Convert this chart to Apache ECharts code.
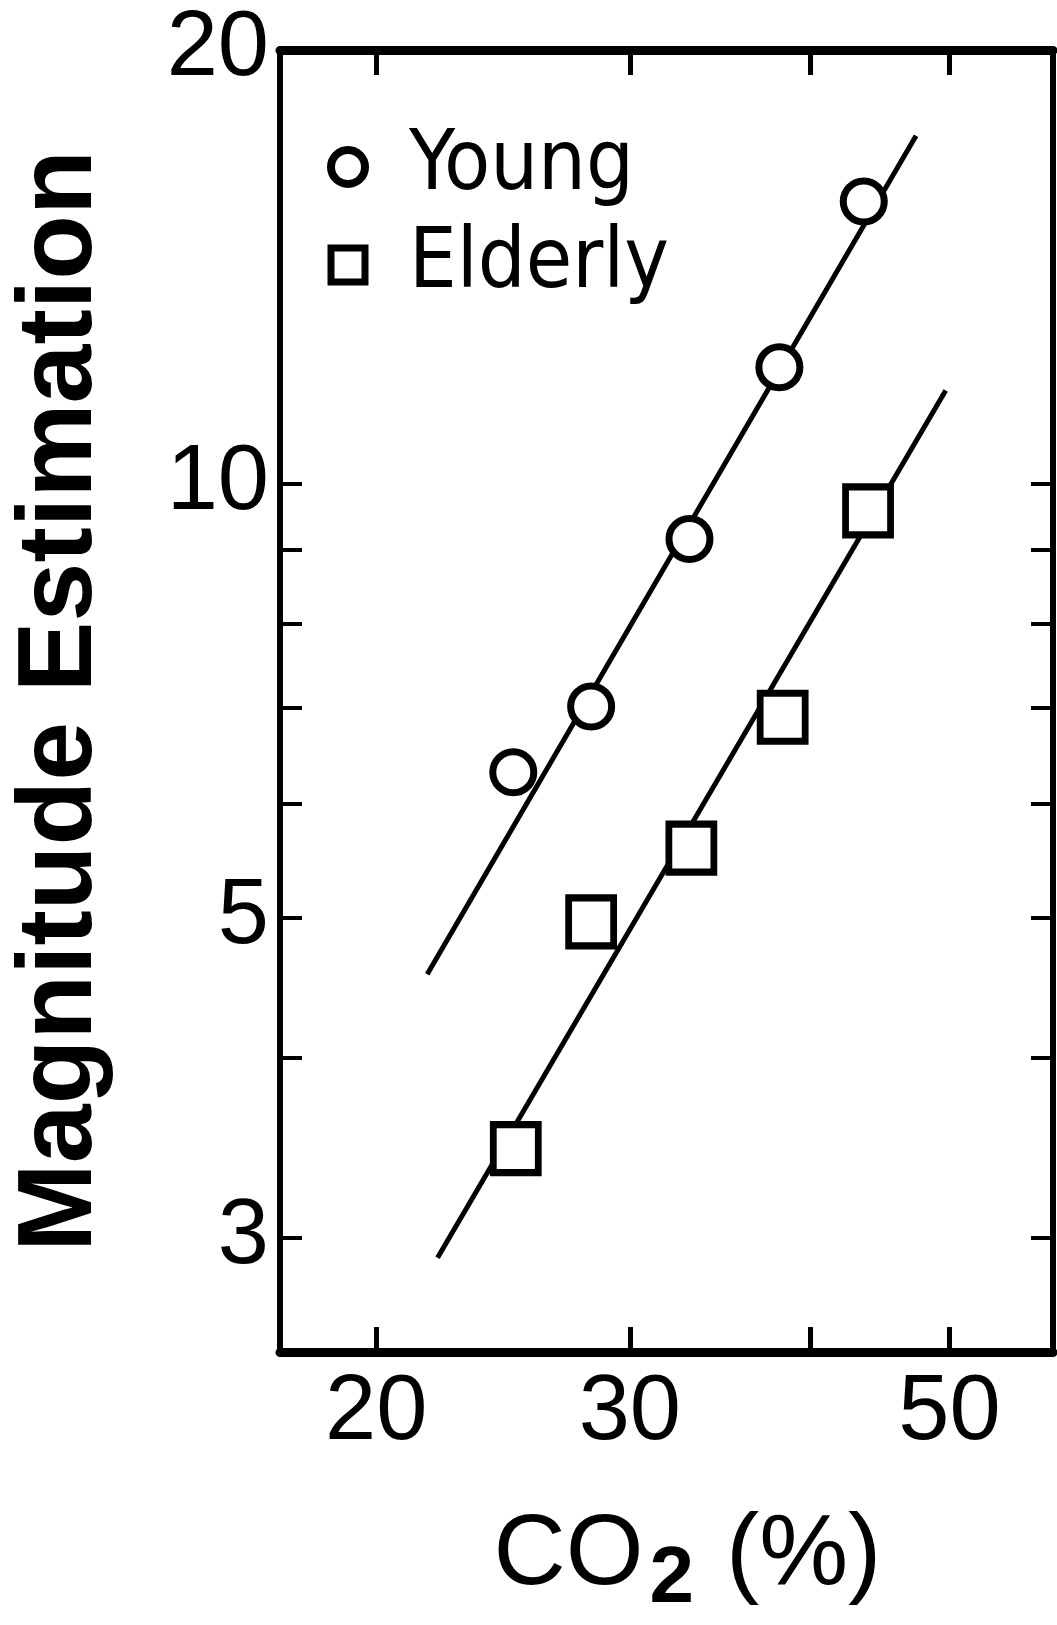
<!DOCTYPE html>
<html>
<head>
<meta charset="utf-8">
<style>
html,body{margin:0;padding:0;background:#fff;}
#chart{width:1057px;height:1625px;}
</style>
<script src="https://cdn.jsdelivr.net/npm/echarts@6/dist/echarts.min.js"></script>
</head>
<body>
<div id="chart"></div>
<script>
// ---- data ----
const co2Young = [24.9, 28.2, 33.0, 38.1, 43.6];
const meYoung = [6.31, 7.01, 9.16, 12.05, 15.7];
const co2Elderly = [25.0, 28.2, 33.1, 38.3, 43.9];
const meElderly = [3.46, 4.97, 5.59, 6.89, 9.58];
// fitted lines (end points as drawn)
const fitYoungX = [21.7, 47.4];
const fitYoungY = [4.57, 17.44];
const fitElderlyX = [22.06, 49.7];
const fitElderlyY = [2.906, 11.61];
// axis ticks / labels
const xTickValues = [20, 30, 40, 50];
const xLabelValues = [20, 30, 50];
const yTickValues = [3, 4, 5, 6, 7, 8, 9, 10];
const yLabelValues = [3, 5, 10, 20];

const zip = (a, b) => a.map((v, i) => [v, b[i]]);

const FONT = "'Liberation Sans', Arial, sans-serif";
const LEG_FONT = "'DejaVu Sans Condensed', 'Liberation Sans Narrow', 'Liberation Sans', sans-serif";

const baseX = {
  type: 'log', min: 17.15, max: 59,
  axisLine: { show: true, lineStyle: { color: '#000', width: 9 } },
  axisTick: { show: true, inside: true, length: 25, lineStyle: { color: '#000', width: 5 }, customValues: xTickValues },
  splitLine: { show: false },
  minorTick: { show: false }
};
const baseY = {
  type: 'log', min: 2.5, max: 20,
  axisLine: { show: true, lineStyle: { color: '#000', width: 6 } },
  axisTick: { show: true, inside: true, length: 22, lineStyle: { color: '#000', width: 4 }, customValues: yTickValues },
  splitLine: { show: false },
  minorTick: { show: false }
};

const chart = echarts.init(document.getElementById('chart'), null, { renderer: 'canvas' });
chart.setOption({
  animation: false,
  backgroundColor: '#fff',
  grid: { left: 280, right: 4, top: 50, bottom: 270, containLabel: false },
  legend: {
    orient: 'vertical', left: 322, top: 117,
    itemWidth: 34, itemHeight: 34, itemGap: 8,
    data: [
      { name: 'Young', icon: 'circle', itemStyle: { color: '#fff', borderColor: '#000', borderWidth: 8 } },
      { name: 'Elderly', icon: 'square', itemStyle: { color: '#fff', borderColor: '#000', borderWidth: 7 } }
    ],
    textStyle: { fontFamily: LEG_FONT, fontSize: 84, color: '#000', lineHeight: 90, padding: [0, 0, 0, 39] },
    selectedMode: false
  },
  xAxis: [
    Object.assign({}, baseX, {
      position: 'bottom',
      axisLabel: { show: true, customValues: xLabelValues, margin: 16, fontFamily: FONT, fontSize: 92, color: '#000' },
      name: '{a|CO}{b|2}{a| (%)}',
      nameLocation: 'middle', nameGap: 154,
      nameTextStyle: {
        padding: [0, 0, 0, 42],
        rich: {
          a: { fontFamily: FONT, fontSize: 100, lineHeight: 100, color: '#000', verticalAlign: 'top' },
          b: { fontFamily: FONT, fontSize: 80, fontWeight: 'bold', lineHeight: 80, color: '#000', verticalAlign: 'top', padding: [34, 4, 0, 6] }
        }
      }
    }),
    Object.assign({}, baseX, { position: 'top', axisLabel: { show: false } })
  ],
  yAxis: [
    Object.assign({}, baseY, {
      position: 'left',
      axisLabel: { show: true, customValues: yLabelValues, margin: 11, fontFamily: FONT, fontSize: 92, color: '#000' },
      name: 'Magnitude Estimation',
      nameLocation: 'middle', nameGap: 165, nameRotate: 90,
      nameTextStyle: { fontFamily: FONT, fontSize: 106, fontWeight: 'bold', color: '#000' }
    }),
    Object.assign({}, baseY, { position: 'right', axisLabel: { show: false } })
  ],
  series: [
    { name: 'Young fit', type: 'line', data: zip(fitYoungX, fitYoungY), showSymbol: false, symbol: 'none',
      lineStyle: { color: '#000', width: 5 }, z: 2, silent: true },
    { name: 'Elderly fit', type: 'line', data: zip(fitElderlyX, fitElderlyY), showSymbol: false, symbol: 'none',
      lineStyle: { color: '#000', width: 5 }, z: 2, silent: true },
    { name: 'Young', type: 'scatter', data: zip(co2Young, meYoung), symbol: 'circle', symbolSize: 41,
      itemStyle: { color: '#fff', borderColor: '#000', borderWidth: 7, opacity: 1 }, z: 5 },
    { name: 'Elderly', type: 'scatter', data: zip(co2Elderly, meElderly), symbol: 'rect', symbolSize: [45, 48],
      itemStyle: { color: '#fff', borderColor: '#000', borderWidth: 7, opacity: 1 }, z: 5 }
  ]
});
</script>
</body>
</html>
